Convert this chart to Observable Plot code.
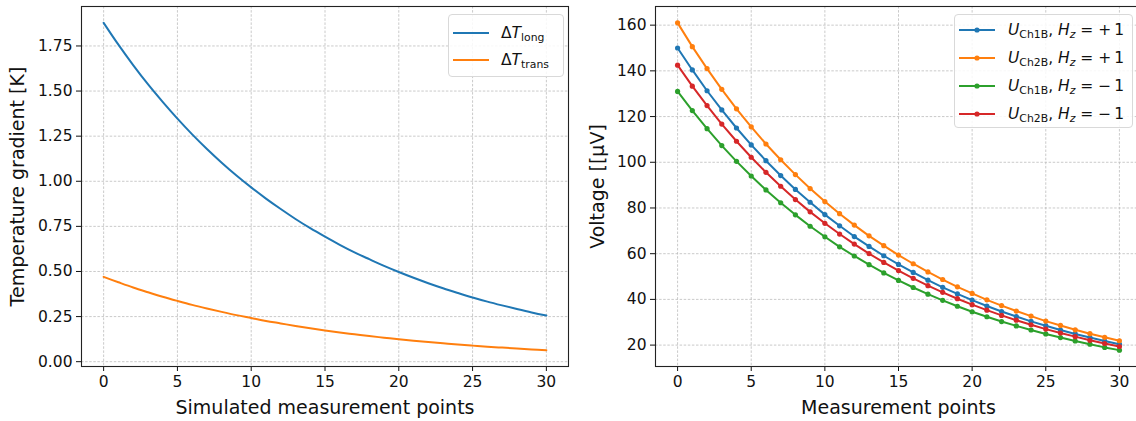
<!DOCTYPE html>
<html>
<head>
<meta charset="utf-8">
<script src="https://cdn.jsdelivr.net/npm/d3@7"></script>
<script src="https://cdn.jsdelivr.net/npm/@observablehq/plot@0.6"></script>
<style>
html, body { margin: 0; padding: 0; background: #fff; overflow: hidden; width: 1136px; height: 421px; }
#root { position: relative; width: 1136px; height: 421px; font-family: "DejaVu Sans", sans-serif; color: #111; }
.panel { position: absolute; top: 0; }
.legend { position: absolute; background: rgba(255,255,255,0.85); border: 1px solid #d9d9d9; border-radius: 4px; box-sizing: border-box; }
.entry { position: absolute; left: 0; height: 24px; display: flex; align-items: center; white-space: nowrap; font-size: 15.5px; }
.entry svg { display: block; }
.entry .lab { position: absolute; white-space: nowrap; }
sub { font-size: 0.7em; vertical-align: -0.3em; line-height: 0; }
i { font-style: italic; }
</style>
</head>
<body>
<div id="root"></div>
<script>
// ---------- data ----------
const points = [0,1,2,3,4,5,6,7,8,9,10,11,12,13,14,15,16,17,18,19,20,21,22,23,24,25,26,27,28,29,30];

const dTlong  = [1.878,1.757,1.644,1.538,1.440,1.347,1.260,1.179,1.103,1.032,0.966,0.904,0.846,0.791,0.740,0.693,0.648,0.606,0.568,0.531,0.497,0.465,0.435,0.407,0.381,0.356,0.333,0.312,0.292,0.273,0.256];
const dTtrans = [0.470,0.440,0.411,0.385,0.360,0.337,0.315,0.295,0.276,0.258,0.242,0.226,0.212,0.198,0.185,0.173,0.162,0.152,0.142,0.133,0.124,0.116,0.109,0.102,0.095,0.089,0.083,0.078,0.073,0.068,0.064];

const U_Ch1B_pos = [150.0,140.4,131.3,122.9,115.0,107.6,100.7,94.2,88.1,82.5,77.1,72.2,67.5,63.2,59.1,55.3,51.8,48.4,45.3,42.4,39.7,37.1,34.7,32.5,30.4,28.5,26.6,24.9,23.3,21.8,20.4];
const U_Ch2B_pos = [161.0,150.6,141.0,131.9,123.4,115.5,108.0,101.1,94.6,88.5,82.8,77.5,72.5,67.8,63.5,59.4,55.6,52.0,48.7,45.5,42.6,39.8,37.3,34.9,32.7,30.5,28.6,26.7,25.0,23.4,21.9];
const U_Ch1B_neg = [131.0,122.6,114.7,107.3,100.4,94.0,87.9,82.3,77.0,72.0,67.4,63.0,59.0,55.2,51.6,48.3,45.2,42.3,39.6,37.0,34.6,32.4,30.3,28.4,26.6,24.9,23.3,21.8,20.4,19.0,17.8];
const U_Ch2B_neg = [142.5,133.3,124.8,116.7,109.2,102.2,95.6,89.5,83.7,78.3,73.3,68.6,64.2,60.0,56.2,52.6,49.2,46.0,43.1,40.3,37.7,35.3,33.0,30.9,28.9,27.0,25.3,23.7,22.1,20.7,19.4];

const xTicks = [0,5,10,15,20,25,30];
const yTicksLeft = [0,0.25,0.5,0.75,1.0,1.25,1.5,1.75];
const yTicksRight = [20,40,60,80,100,120,140,160];

const leftLabels = ["long","trans"];
const rightLabels = [["Ch1B","+"],["Ch2B","+"],["Ch1B","\u2212"],["Ch2B","\u2212"]];
const colors = ["#1f77b4","#ff7f0e","#2ca02c","#d62728"];

// ---------- helpers ----------
const pad = arr => { const mn = d3.min(arr), mx = d3.max(arr), p = (mx - mn) * 0.05; return [mn - p, mx + p]; };
const gridStyle = {stroke: "#bdbdbd", strokeOpacity: 1, strokeWidth: 0.8, strokeDasharray: "2.5,1.6"};
const baseStyle = {fontFamily: "DejaVu Sans", fontSize: "15.5px", color: "#111", background: "transparent", overflow: "visible"};

function enlargeLabels(svg) {
  svg.querySelectorAll('[aria-label$="-axis label"]').forEach(g => { g.style.fontSize = "19px"; });
}

const root = document.getElementById("root");

// ---------- left panel ----------
const leftSeries = [dTlong, dTtrans];
const left = Plot.plot({
  width: 575, height: 421,
  marginLeft: 81, marginRight: 7, marginTop: 6, marginBottom: 55,
  style: baseStyle,
  x: {domain: pad(points)},
  y: {domain: pad([...dTlong, ...dTtrans])},
  marks: [
    Plot.gridX(xTicks, gridStyle),
    Plot.gridY(yTicksLeft, gridStyle),
    ...leftSeries.map((s, k) => Plot.line(points, {x: d => d, y: (d, i) => s[i], stroke: colors[k], strokeWidth: 2, curve: "catmull-rom"})),
    Plot.axisX(xTicks, {tickSize: 5, tickPadding: 4, label: "Simulated measurement points", labelAnchor: "center", labelArrow: "none", labelOffset: 47}),
    Plot.axisY(yTicksLeft, {tickSize: 5, tickPadding: 4, tickFormat: d3.format(".2f"), label: "Temperature gradient [K]", labelAnchor: "center", labelArrow: "none", labelOffset: 71}),
    Plot.frame({stroke: "#222", strokeWidth: 1.1})
  ]
});
enlargeLabels(left);
left.classList.add("panel");
left.style.left = "0px";
root.appendChild(left);

// ---------- right panel ----------
const rightSeries = [U_Ch1B_pos, U_Ch2B_pos, U_Ch1B_neg, U_Ch2B_neg];
const right = Plot.plot({
  width: 575, height: 421,
  marginLeft: 80, marginRight: 9, marginTop: 6, marginBottom: 55,
  style: baseStyle,
  x: {domain: pad(points)},
  y: {domain: pad(rightSeries.flat())},
  marks: [
    Plot.gridX(xTicks, gridStyle),
    Plot.gridY(yTicksRight, gridStyle),
    ...rightSeries.flatMap((s, k) => [
      Plot.line(points, {x: d => d, y: (d, i) => s[i], stroke: colors[k], strokeWidth: 2}),
      Plot.dot(points, {x: d => d, y: (d, i) => s[i], fill: colors[k], r: 2.6})
    ]),
    Plot.axisX(xTicks, {tickSize: 5, tickPadding: 4, label: "Measurement points", labelAnchor: "center", labelArrow: "none", labelOffset: 47}),
    Plot.axisY(yTicksRight, {tickSize: 5, tickPadding: 4, label: "Voltage [[\u00b5V]", labelAnchor: "center", labelArrow: "none", labelOffset: 65}),
    Plot.frame({stroke: "#222", strokeWidth: 1.1})
  ]
});
enlargeLabels(right);
right.classList.add("panel");
right.style.left = "575px";
root.appendChild(right);

// ---------- legends ----------
function swatch(color, marker) {
  return `<svg width="36" height="10"><line x1="0" y1="5" x2="36" y2="5" stroke="${color}" stroke-width="2"/>` +
    (marker ? `<circle cx="18" cy="5" r="2.6" fill="${color}"/>` : "") + `</svg>`;
}
const legL = document.createElement("div");
legL.className = "legend";
Object.assign(legL.style, {left: "448px", top: "14px", width: "116px", height: "63px"});
leftLabels.forEach((lab, k) => {
  const e = document.createElement("div");
  e.className = "entry";
  e.style.top = (6 + k * 27) + "px";
  e.style.left = "4px";
  e.innerHTML = swatch(colors[k], false) + `<span class="lab" style="left:48px">\u0394<i>T</i><sub>${lab}</sub></span>`;
  legL.appendChild(e);
});
root.appendChild(legL);

const legR = document.createElement("div");
legR.className = "legend";
Object.assign(legR.style, {left: "954px", top: "14px", width: "179px", height: "114px"});
rightLabels.forEach(([ch, sign], k) => {
  const e = document.createElement("div");
  e.className = "entry";
  e.style.top = (3 + k * 28) + "px";
  e.style.left = "4px";
  e.innerHTML = swatch(colors[k], true) + `<span class="lab" style="left:49px"><i>U</i><sub>${ch}</sub>, <i>H</i><sub><i>z</i></sub> = ${sign}\u20091</span>`;
  legR.appendChild(e);
});
root.appendChild(legR);
</script>
</body>
</html>
